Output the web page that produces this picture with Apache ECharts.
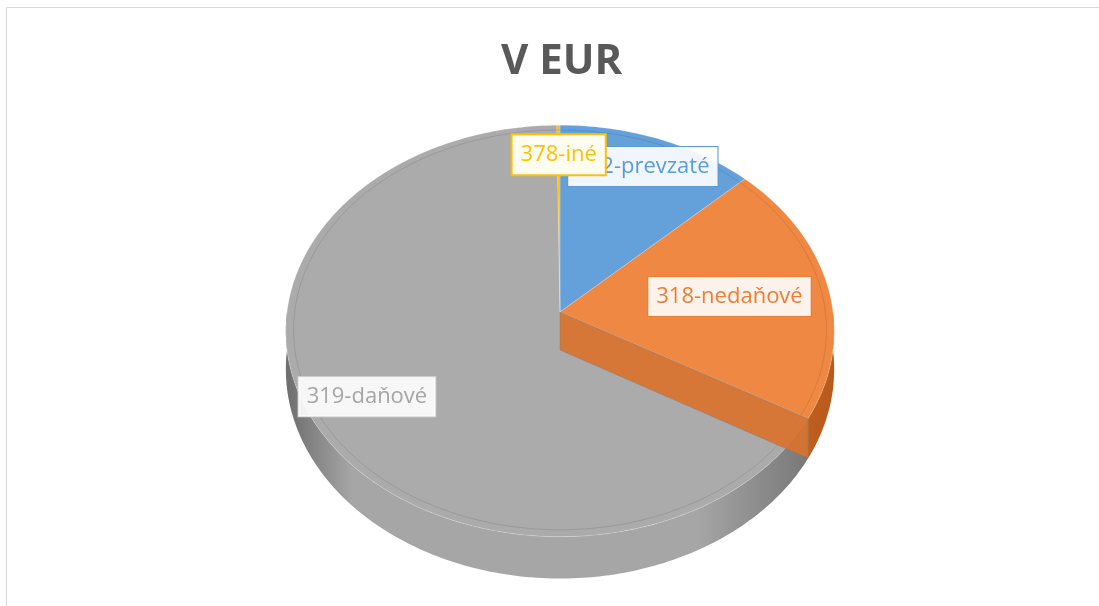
<!DOCTYPE html>
<html>
<head>
<meta charset="utf-8">
<script src="https://cdn.jsdelivr.net/npm/echarts@6/dist/echarts.min.js"></script>
<style>
  html, body { margin: 0; padding: 0; background: #fff; }
  #chart { width: 1099px; height: 606px; }
</style>
</head>
<body>
<div id="chart"></div>
<script>
// data (share of each item, in %)
var categories = ['312-prevzaté', '318-nedaňové', '319-daňové', '378-iné'];
var values = [12.8, 20.5, 66.5, 0.2];

var colors = ['#5B9BD5', '#ED7D31', '#A5A5A5', '#FFC000'];
var topColors = ['#64A0DA', '#EE8843', '#ABABAB', '#FFC000'];
var wallDark = ['#3f76a8', '#b85a1c', '#6e6e6e', '#c79500'];
var wallLight = ['#5a8fc4', '#d9722c', '#a6a6a6', '#e6ad00'];
// where each label sits, as a fraction of the radius along the slice middle
var labelRadius = [0.83, 0.63, 0.79, 0.83];

// pie geometry (tilted disc with a bit of perspective)
var CX = 560, CY = 312, RX = 273, RY = 204, K = 0.092, DEPTH = 38;

function proj(deg, r, drop) {
    var t = deg * Math.PI / 180;
    var u = r * Math.sin(t), v = -r * Math.cos(t);
    var s = 1 / (1 - K * v);
    return [CX + RX * u * s, CY + RY * v * s + drop * s];
}

var total = values.reduce(function (a, b) { return a + b; }, 0);
var starts = [];
var acc = 0;
values.forEach(function (v) { starts.push(acc / total * 360); acc += v; });

function arcPoints(a1, a2, r, drop) {
    var pts = [];
    var n = Math.max(2, Math.ceil(Math.abs(a2 - a1)));
    for (var i = 0; i <= n; i++) {
        pts.push(proj(a1 + (a2 - a1) * i / n, r, drop));
    }
    return pts;
}

function renderSlice(params, api) {
    var i = params.dataIndex;
    var a1 = starts[i];
    var a2 = a1 + api.value(0) / total * 360;
    var children = [];

    // outer wall, only the front half shows
    var w1 = Math.max(a1, 90), w2 = Math.min(a2, 270);
    if (w2 > w1) {
        var topEdge = arcPoints(w1, w2, 1, 0);
        var botEdge = arcPoints(w1, w2, 1, DEPTH).reverse();
        children.push({
            type: 'polygon',
            z2: 1,
            shape: { points: topEdge.concat(botEdge) },
            style: {
                fill: {
                    type: 'linear', x: CX - RX, y: 0, x2: CX + RX, y2: 0, global: true,
                    colorStops: [
                        { offset: 0, color: wallDark[i] },
                        { offset: 0.12, color: wallLight[i] },
                        { offset: 0.75, color: wallLight[i] },
                        { offset: 1, color: wallDark[i] }
                    ]
                }
            }
        });
    }

    // top face
    var top = [proj(0, 0, 0)].concat(arcPoints(a1, a2, 1, 0));
    children.push({
        type: 'polygon',
        z2: 10,
        shape: { points: top },
        style: { fill: topColors[i], stroke: 'rgba(255,255,255,0.25)', lineWidth: 0.8 }
    });
    // bevel line near the rim
    children.push({
        type: 'polyline',
        z2: 11,
        shape: { points: arcPoints(a1, a2, 0.972, 0) },
        style: { fill: null, stroke: 'rgba(0,0,0,0.1)', lineWidth: 1 }
    });

    // cut face at the end angle, when it faces the viewer
    var t2 = a2 * Math.PI / 180;
    if (Math.sin(t2) > 0 && -Math.cos(t2) > 0 && a2 < 359.9) {
        children.push({
            type: 'polygon',
            z2: 20,
            shape: { points: [proj(0, 0, 0), proj(a2, 1, 0), proj(a2, 1, DEPTH), proj(0, 0, DEPTH)] },
            style: { fill: wallLight[i], opacity: 0.92, stroke: 'rgba(120,120,120,0.5)', lineWidth: 0.8 }
        });
    }

    // data label
    var mid = (a1 + a2) / 2;
    var lp = proj(mid, labelRadius[i], 0);
    var isYellow = i === 3;
    children.push({
        type: 'text',
        z2: 100 + i,
        x: lp[0],
        y: lp[1],
        style: {
            text: categories[i],
            fill: colors[i],
            font: '22px "Open Sans", sans-serif',
            align: 'center',
            verticalAlign: 'middle',
            backgroundColor: isYellow ? '#FFFDF2' : 'rgba(255,255,255,0.9)',
            borderColor: i === 2 ? '#D9D9D9' : colors[i],
            borderWidth: isYellow ? 2 : 1,
            padding: [5, 8, 5, 8],
            lineHeight: 29
        }
    });

    return { type: 'group', children: children };
}

var chart = echarts.init(document.getElementById('chart'));
chart.setOption({
    backgroundColor: '#fff',
    animation: false,
    title: {
        text: 'V EUR',
        left: 496,
        top: 36,
        textStyle: {
            fontFamily: 'Open Sans',
            fontSize: 42,
            fontWeight: 'bold',
            color: '#595959'
        }
    },
    graphic: [{
        type: 'rect',
        shape: { x: 6.5, y: 7.5, width: 1200, height: 700 },
        style: { fill: null, stroke: '#D9D9D9', lineWidth: 1 },
        silent: true
    }],
    series: [{
        type: 'custom',
        coordinateSystem: 'none',
        renderItem: renderSlice,
        data: values.map(function (v, i) { return { name: categories[i], value: [v] }; })
    }]
});
</script>
</body>
</html>
